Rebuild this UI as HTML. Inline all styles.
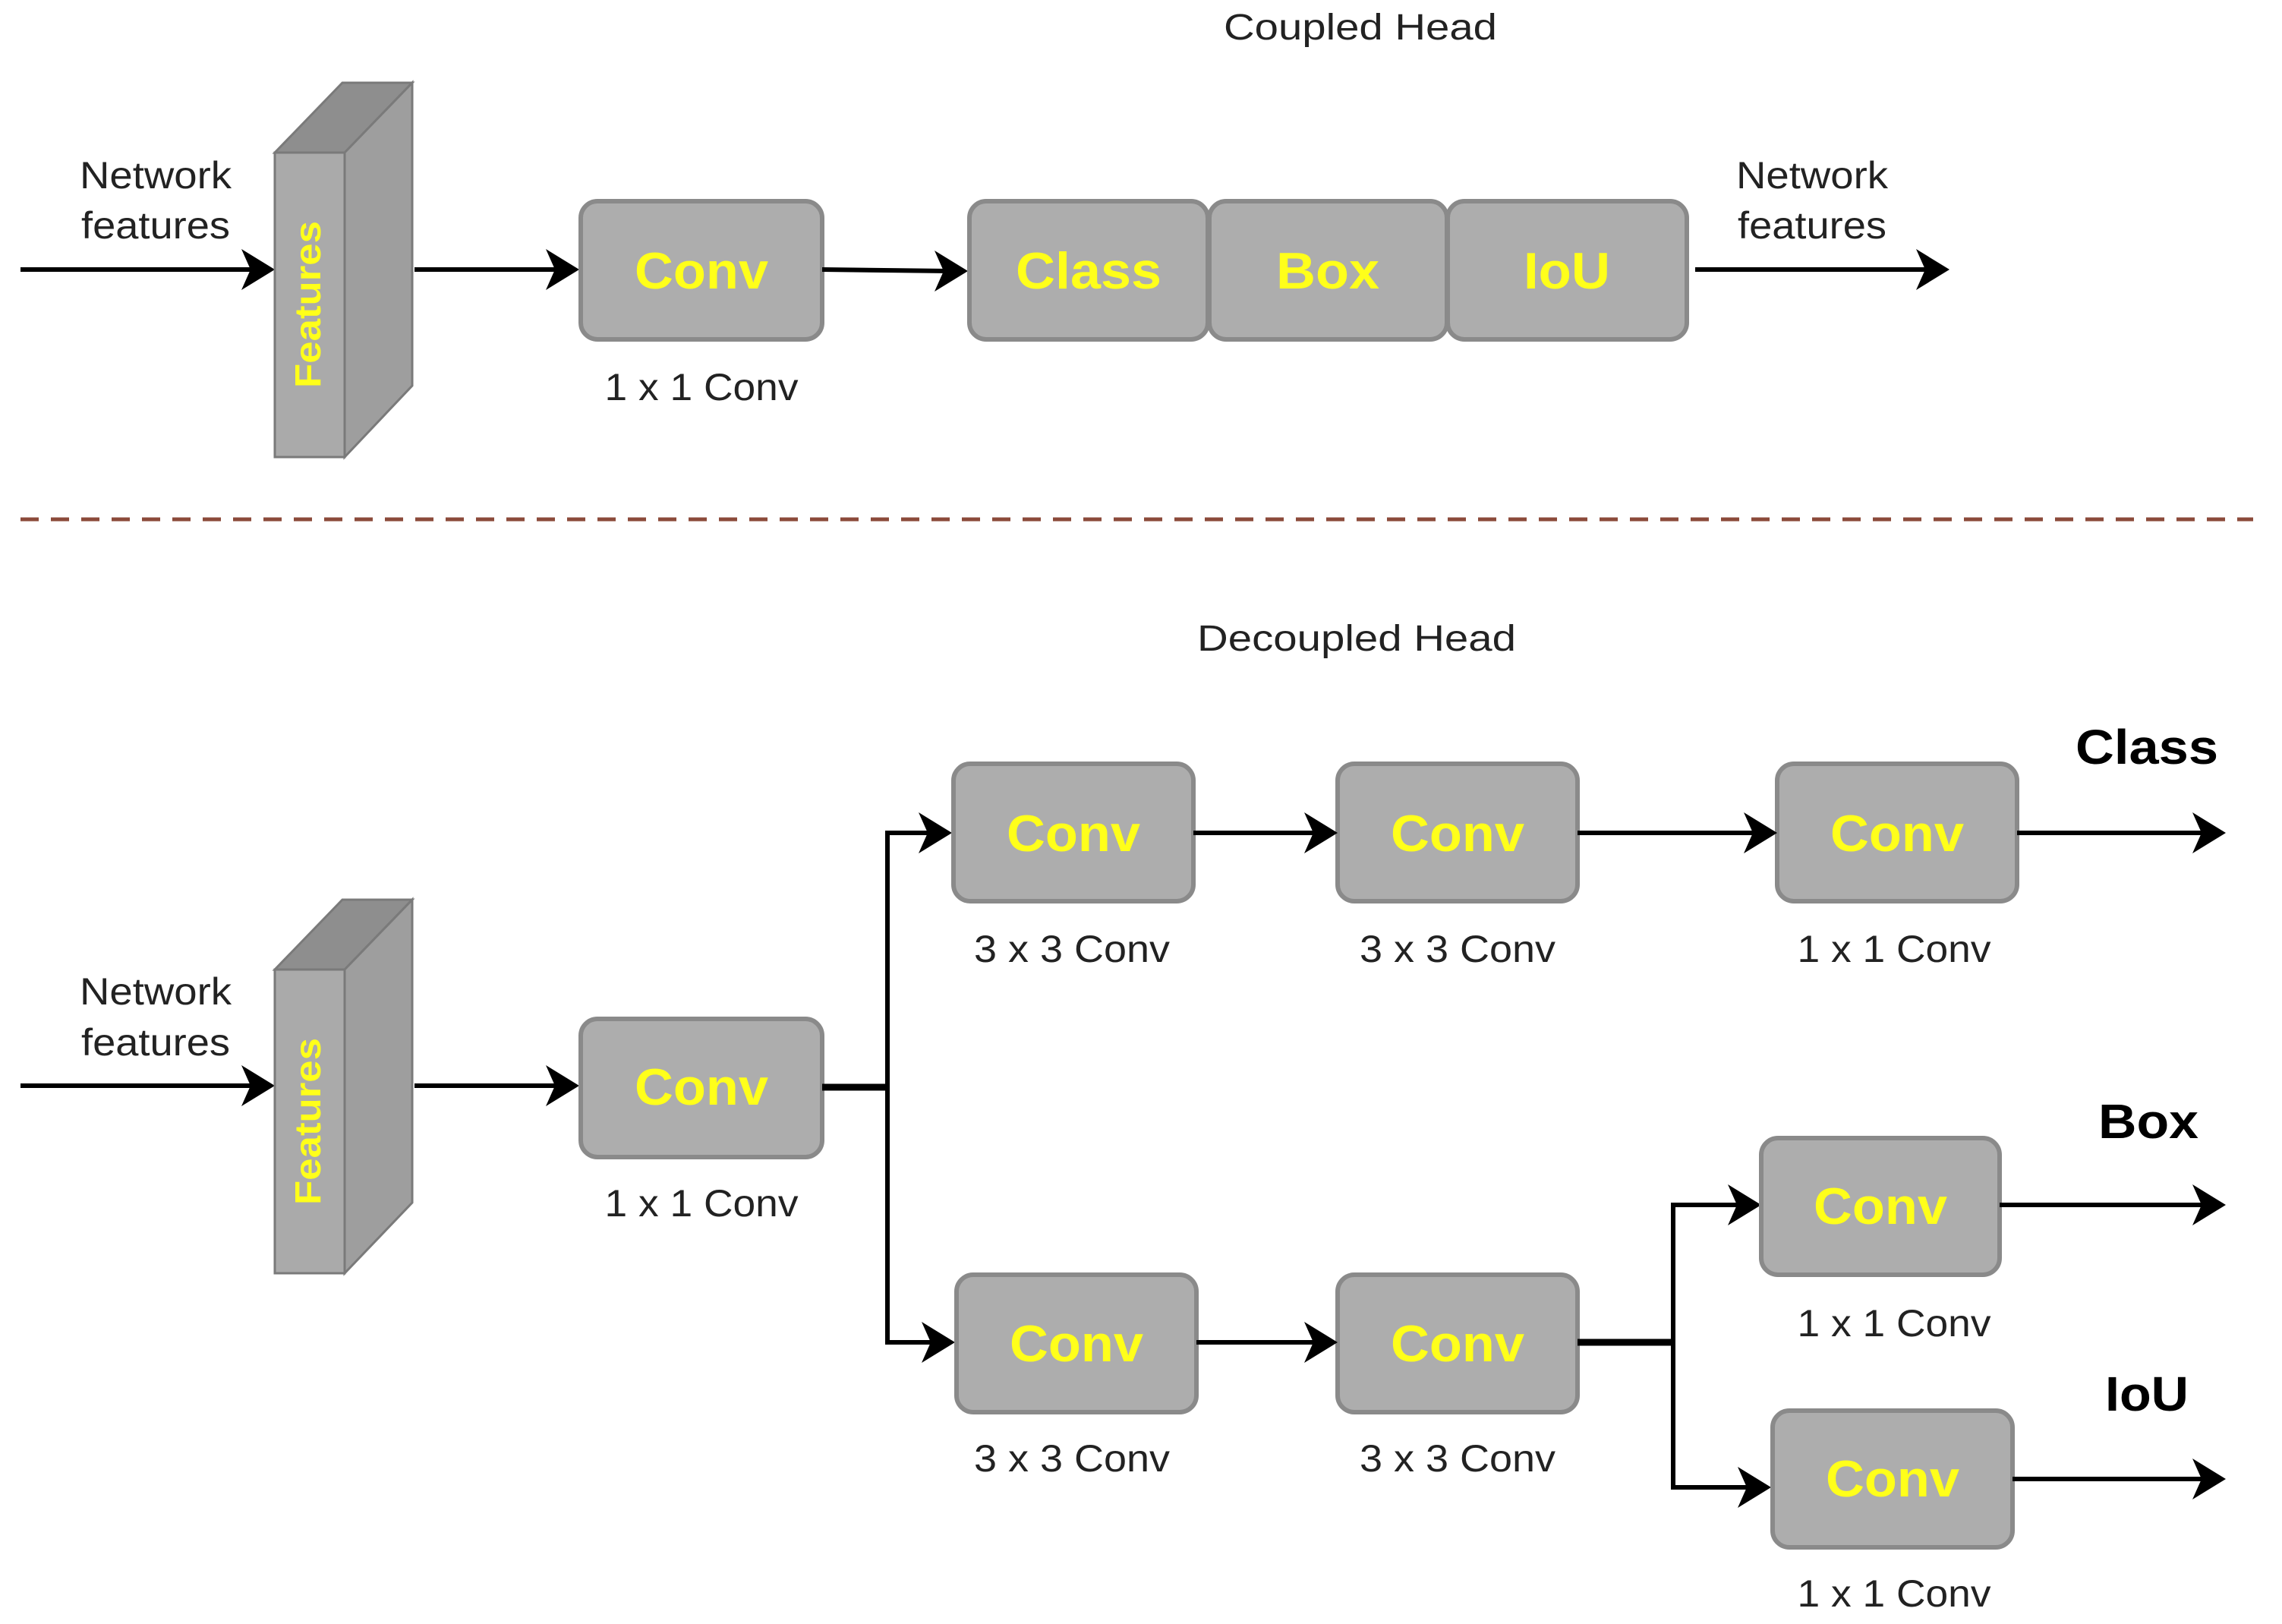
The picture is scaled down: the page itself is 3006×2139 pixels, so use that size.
<!DOCTYPE html>
<html><head><meta charset="utf-8"><style>html,body{margin:0;padding:0;background:#fff}svg{display:block}</style></head>
<body>
<svg width="3006" height="2139" viewBox="0 0 3006 2139" xmlns="http://www.w3.org/2000/svg" font-family="Liberation Sans, Arial, sans-serif">
<defs>
<marker id="a" markerWidth="10" markerHeight="10" refX="9" refY="5" orient="auto" markerUnits="userSpaceOnUse" viewBox="0 0 10 10" style="overflow:visible">
</marker>
</defs>
<style>
.bx{fill:#adadad;stroke:#8a8a8a;stroke-width:6}
.ln{stroke:#000;stroke-width:6;fill:none}
.ah{fill:#000}
.y{fill:#ffff1a;font-weight:bold;font-size:68px;text-anchor:middle}
.lb{fill:#222;font-size:50px;text-anchor:middle}
.tt{fill:#222;font-size:48px;text-anchor:middle}
.bk{fill:#000;font-weight:bold;font-size:64px;text-anchor:middle}
</style>

<!-- arrowhead helper: drawn as polygons -->
<!-- TOP SECTION -->
<text class="tt" x="1792" y="52" textLength="360" lengthAdjust="spacingAndGlyphs">Coupled Head</text>

<text class="lb" x="205" y="248" textLength="200" lengthAdjust="spacingAndGlyphs">Network</text>
<text class="lb" x="205" y="314" textLength="196" lengthAdjust="spacingAndGlyphs">features</text>
<line class="ln" x1="27" y1="355" x2="340" y2="355"/>
<polygon class="ah" points="362,355 318,328 330,355 318,382"/>

<!-- slab top -->
<polygon points="362,201 454,201 543,109 451,109" fill="#8e8e8e" stroke="#7a7a7a" stroke-width="3"/>
<polygon points="454,201 543,109 543,508 454,602" fill="#9e9e9e" stroke="#7a7a7a" stroke-width="3"/>
<rect x="362" y="201" width="92" height="401" fill="#aaaaaa" stroke="#7a7a7a" stroke-width="3"/>
<text class="y" font-size="48" transform="translate(422,401) rotate(-90)" textLength="220" lengthAdjust="spacingAndGlyphs" style="font-size:48px">Features</text>

<line class="ln" x1="546" y1="355" x2="740" y2="355"/>
<polygon class="ah" points="763,355 719,328 731,355 719,382"/>
<rect class="bx" x="765" y="265" width="318" height="182" rx="22"/>
<text class="y" x="924" y="380" textLength="176" lengthAdjust="spacingAndGlyphs">Conv</text>
<text class="lb" x="924" y="527" textLength="255" lengthAdjust="spacingAndGlyphs">1 x 1 Conv</text>

<line class="ln" x1="1083" y1="355" x2="1250" y2="357"/>
<polygon class="ah" points="1275,357 1231,330 1243,357 1231,384"/>

<rect class="bx" x="1277" y="265" width="314" height="182" rx="22"/>
<rect class="bx" x="1593" y="265" width="313" height="182" rx="22"/>
<rect class="bx" x="1907" y="265" width="315" height="182" rx="22"/>
<text class="y" x="1434" y="380" textLength="192" lengthAdjust="spacingAndGlyphs">Class</text>
<text class="y" x="1749" y="380" textLength="136" lengthAdjust="spacingAndGlyphs">Box</text>
<text class="y" x="2064" y="380" textLength="114" lengthAdjust="spacingAndGlyphs">IoU</text>

<text class="lb" x="2387" y="248" textLength="200" lengthAdjust="spacingAndGlyphs">Network</text>
<text class="lb" x="2387" y="314" textLength="196" lengthAdjust="spacingAndGlyphs">features</text>
<line class="ln" x1="2233" y1="355" x2="2545" y2="355"/>
<polygon class="ah" points="2568,355 2524,328 2536,355 2524,382"/>

<line x1="27" y1="684" x2="2968" y2="684" stroke="#8b4a3a" stroke-width="5" stroke-dasharray="24,16"/>

<!-- BOTTOM SECTION -->
<text class="tt" x="1787" y="857" textLength="420" lengthAdjust="spacingAndGlyphs">Decoupled Head</text>

<text class="lb" x="205" y="1323" textLength="200" lengthAdjust="spacingAndGlyphs">Network</text>
<text class="lb" x="205" y="1390" textLength="196" lengthAdjust="spacingAndGlyphs">features</text>
<line class="ln" x1="27" y1="1430" x2="340" y2="1430"/>
<polygon class="ah" points="362,1430 318,1403 330,1430 318,1457"/>

<polygon points="362,1277 454,1277 543,1185 451,1185" fill="#8e8e8e" stroke="#7a7a7a" stroke-width="3"/>
<polygon points="454,1277 543,1185 543,1584 454,1677" fill="#9e9e9e" stroke="#7a7a7a" stroke-width="3"/>
<rect x="362" y="1277" width="92" height="400" fill="#aaaaaa" stroke="#7a7a7a" stroke-width="3"/>
<text class="y" transform="translate(422,1477) rotate(-90)" textLength="220" lengthAdjust="spacingAndGlyphs" style="font-size:48px">Features</text>

<line class="ln" x1="546" y1="1430" x2="740" y2="1430"/>
<polygon class="ah" points="763,1430 719,1403 731,1430 719,1457"/>
<rect class="bx" x="765" y="1342" width="318" height="182" rx="22"/>
<text class="y" x="924" y="1455" textLength="176" lengthAdjust="spacingAndGlyphs">Conv</text>
<text class="lb" x="924" y="1602" textLength="255" lengthAdjust="spacingAndGlyphs">1 x 1 Conv</text>

<line x1="1083" y1="1432" x2="1169" y2="1432" stroke="#000" stroke-width="9"/>
<polyline class="ln" points="1230,1097 1169,1097 1169,1768 1230,1768"/>
<polygon class="ah" points="1254,1097 1210,1070 1222,1097 1210,1124"/>
<polygon class="ah" points="1258,1768 1214,1741 1226,1768 1214,1795"/>

<!-- top row -->
<rect class="bx" x="1256" y="1006" width="316" height="181" rx="22"/>
<rect class="bx" x="1762" y="1006" width="316" height="181" rx="22"/>
<rect class="bx" x="2341" y="1006" width="316" height="181" rx="22"/>
<text class="y" x="1414" y="1121" textLength="176" lengthAdjust="spacingAndGlyphs">Conv</text>
<text class="y" x="1920" y="1121" textLength="176" lengthAdjust="spacingAndGlyphs">Conv</text>
<text class="y" x="2499" y="1121" textLength="176" lengthAdjust="spacingAndGlyphs">Conv</text>
<text class="lb" x="1412" y="1267" textLength="258" lengthAdjust="spacingAndGlyphs">3 x 3 Conv</text>
<text class="lb" x="1920" y="1267" textLength="258" lengthAdjust="spacingAndGlyphs">3 x 3 Conv</text>
<text class="lb" x="2495" y="1267" textLength="255" lengthAdjust="spacingAndGlyphs">1 x 1 Conv</text>
<line class="ln" x1="1572" y1="1097" x2="1740" y2="1097"/>
<polygon class="ah" points="1762,1097 1718,1070 1730,1097 1718,1124"/>
<line class="ln" x1="2078" y1="1097" x2="2320" y2="1097"/>
<polygon class="ah" points="2341,1097 2297,1070 2309,1097 2297,1124"/>
<line class="ln" x1="2657" y1="1097" x2="2910" y2="1097"/>
<polygon class="ah" points="2932,1097 2888,1070 2900,1097 2888,1124"/>
<text class="bk" x="2828" y="1006" textLength="188" lengthAdjust="spacingAndGlyphs">Class</text>

<!-- bottom row -->
<rect class="bx" x="1260" y="1679" width="316" height="181" rx="22"/>
<rect class="bx" x="1762" y="1679" width="316" height="181" rx="22"/>
<text class="y" x="1418" y="1793" textLength="176" lengthAdjust="spacingAndGlyphs">Conv</text>
<text class="y" x="1920" y="1793" textLength="176" lengthAdjust="spacingAndGlyphs">Conv</text>
<text class="lb" x="1412" y="1938" textLength="258" lengthAdjust="spacingAndGlyphs">3 x 3 Conv</text>
<text class="lb" x="1920" y="1938" textLength="258" lengthAdjust="spacingAndGlyphs">3 x 3 Conv</text>
<line class="ln" x1="1576" y1="1768" x2="1740" y2="1768"/>
<polygon class="ah" points="1762,1768 1718,1741 1730,1768 1718,1795"/>

<line x1="2078" y1="1768" x2="2204" y2="1768" stroke="#000" stroke-width="9"/>
<polyline class="ln" points="2300,1587 2204,1587 2204,1959 2310,1959"/>
<polygon class="ah" points="2320,1587 2276,1560 2288,1587 2276,1614"/>
<polygon class="ah" points="2333,1959 2289,1932 2301,1959 2289,1986"/>

<rect class="bx" x="2320" y="1499" width="314" height="180" rx="22"/>
<text class="y" x="2477" y="1612" textLength="176" lengthAdjust="spacingAndGlyphs">Conv</text>
<text class="lb" x="2495" y="1760" textLength="255" lengthAdjust="spacingAndGlyphs">1 x 1 Conv</text>
<line class="ln" x1="2634" y1="1587" x2="2910" y2="1587"/>
<polygon class="ah" points="2932,1587 2888,1560 2900,1587 2888,1614"/>
<text class="bk" x="2830" y="1499" textLength="132" lengthAdjust="spacingAndGlyphs">Box</text>

<rect class="bx" x="2335" y="1858" width="316" height="180" rx="22"/>
<text class="y" x="2493" y="1971" textLength="176" lengthAdjust="spacingAndGlyphs">Conv</text>
<text class="lb" x="2495" y="2116" textLength="255" lengthAdjust="spacingAndGlyphs">1 x 1 Conv</text>
<line class="ln" x1="2651" y1="1948" x2="2910" y2="1948"/>
<polygon class="ah" points="2932,1948 2888,1921 2900,1948 2888,1975"/>
<text class="bk" x="2828" y="1858" textLength="110" lengthAdjust="spacingAndGlyphs">IoU</text>
</svg>
</body></html>
